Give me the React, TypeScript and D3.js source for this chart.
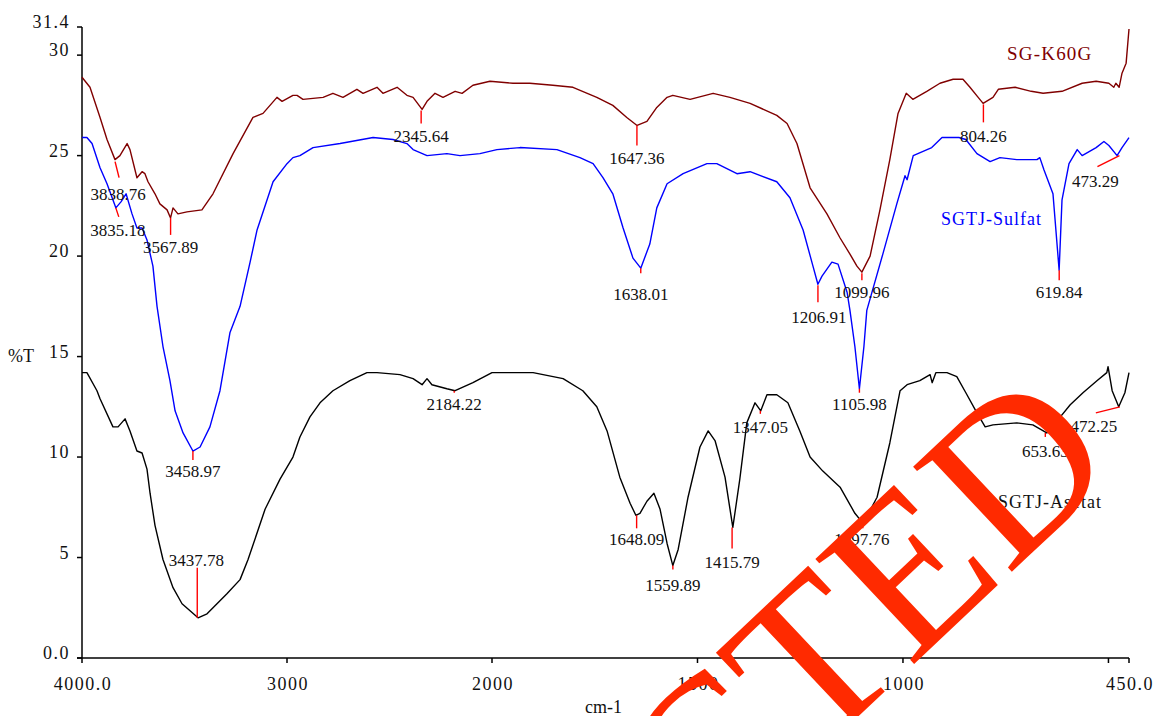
import React from "react";
import * as d3 from "d3";

// ---- data: [wavenumber cm-1, %T] ----
const sgK60g: [number, number][] = [
  [4000, 28.9], [3961, 28.4], [3912, 26.9], [3878, 25.8], [3839, 24.8], [3815, 25.0],
  [3780, 25.6], [3766, 25.3], [3732, 23.9], [3707, 24.2], [3693, 24.1], [3678, 23.7],
  [3644, 23.1], [3620, 22.6], [3585, 22.3], [3568, 21.9], [3556, 22.4], [3532, 22.1],
  [3488, 22.2], [3415, 22.3], [3361, 23.1], [3263, 25.1], [3166, 26.9], [3117, 27.1],
  [3049, 27.9], [3024, 27.7], [2971, 28.0], [2951, 28.0], [2922, 27.8], [2824, 27.9],
  [2776, 28.1], [2727, 27.9], [2659, 28.3], [2629, 28.1], [2561, 28.4], [2532, 28.1],
  [2463, 28.4], [2415, 28.0], [2385, 27.9], [2341, 27.3], [2317, 27.7], [2278, 28.1],
  [2239, 27.9], [2180, 28.2], [2146, 28.1], [2093, 28.5], [2010, 28.7], [1949, 28.6],
  [1908, 28.6], [1852, 28.5], [1803, 28.4], [1745, 27.9], [1706, 27.5], [1672, 26.9],
  [1647, 26.5], [1623, 26.7], [1599, 27.4], [1574, 27.9], [1560, 28.0], [1518, 27.8],
  [1462, 28.1], [1421, 27.9], [1372, 27.6], [1307, 27.0], [1282, 26.6], [1258, 25.6],
  [1226, 23.4], [1185, 22.1], [1153, 20.9], [1129, 20.1], [1112, 19.5], [1100, 19.2],
  [1080, 20.0], [1056, 22.3], [1032, 24.8], [1012, 27.1], [992, 28.1], [976, 27.8],
  [942, 28.2], [910, 28.6], [878, 28.8], [854, 28.8], [837, 28.4], [817, 27.9],
  [805, 27.6], [781, 27.9], [768, 28.3], [727, 28.4], [688, 28.2], [659, 28.1],
  [613, 28.2], [564, 28.6], [530, 28.7], [499, 28.6], [487, 28.4], [482, 28.6],
  [474, 28.4], [467, 29.1], [457, 29.6], [450, 31.3],
];

const sgtjSulfat: [number, number][] = [
  [4000, 25.9], [3976, 25.9], [3951, 25.6], [3912, 24.4], [3878, 23.6], [3835, 22.4],
  [3810, 22.7], [3785, 23.1], [3756, 22.1], [3732, 21.4], [3707, 21.4], [3683, 20.8],
  [3654, 19.5], [3634, 17.5], [3605, 15.5], [3571, 13.8], [3546, 12.3], [3507, 11.2],
  [3459, 10.3], [3424, 10.5], [3376, 11.5], [3327, 13.3], [3278, 16.2], [3229, 17.5],
  [3180, 19.7], [3146, 21.3], [3068, 23.7], [3000, 24.6], [2971, 24.9], [2937, 25.0],
  [2873, 25.4], [2741, 25.6], [2580, 25.9], [2483, 25.8], [2415, 25.6], [2385, 25.3],
  [2317, 25.0], [2220, 25.1], [2156, 25.0], [2059, 25.1], [1988, 25.3], [1932, 25.4],
  [1842, 25.3], [1786, 24.9], [1754, 24.6], [1730, 23.9], [1706, 23.1], [1681, 21.4],
  [1657, 19.9], [1638, 19.4], [1616, 20.6], [1599, 22.4], [1574, 23.6], [1535, 24.1],
  [1477, 24.6], [1453, 24.6], [1404, 24.1], [1372, 24.2], [1307, 23.7], [1275, 22.9],
  [1243, 21.3], [1219, 19.5], [1207, 18.6], [1197, 19.0], [1173, 19.7], [1158, 19.6],
  [1136, 18.2], [1129, 17.3], [1117, 15.5], [1106, 13.4], [1095, 15.5], [1088, 17.3],
  [1049, 20.1], [1015, 22.6], [995, 24.0], [990, 23.8], [975, 25.0], [930, 25.4],
  [905, 25.9], [864, 25.9], [847, 25.8], [820, 25.1], [788, 24.7], [764, 24.9],
  [723, 24.8], [674, 24.8], [667, 24.9], [657, 24.3], [635, 23.1], [620, 19.3],
  [613, 22.8], [596, 24.6], [576, 25.3], [564, 25.0], [530, 25.4], [511, 25.7],
  [499, 25.5], [479, 25.0], [467, 25.4], [450, 25.9],
];

const sgtjAsetat: [number, number][] = [
  [4000, 14.2], [3976, 14.2], [3927, 13.3], [3912, 12.9], [3849, 11.5], [3824, 11.5],
  [3790, 11.9], [3766, 11.3], [3732, 10.3], [3707, 10.2], [3683, 9.4], [3668, 8.2],
  [3644, 6.6], [3605, 4.9], [3556, 3.5], [3512, 2.7], [3434, 2.0], [3390, 2.2],
  [3293, 3.2], [3229, 3.9], [3190, 4.9], [3107, 7.4], [3034, 8.9], [2971, 10.0],
  [2937, 11.0], [2888, 12.0], [2839, 12.7], [2776, 13.3], [2693, 13.8], [2610, 14.2],
  [2561, 14.2], [2449, 14.1], [2385, 13.9], [2341, 13.6], [2317, 13.9], [2293, 13.6],
  [2220, 13.4], [2180, 13.3], [2093, 13.7], [2000, 14.2], [1949, 14.2], [1900, 14.2],
  [1827, 13.9], [1779, 13.3], [1745, 12.5], [1720, 11.3], [1689, 9.0], [1664, 7.7],
  [1650, 7.1], [1640, 7.2], [1623, 7.8], [1606, 8.2], [1591, 7.4], [1574, 5.7],
  [1560, 4.6], [1547, 5.4], [1523, 8.0], [1494, 10.5], [1474, 11.3], [1457, 10.8],
  [1433, 9.0], [1414, 6.5], [1397, 8.9], [1380, 11.7], [1360, 12.7], [1346, 12.3],
  [1331, 13.1], [1307, 13.1], [1280, 12.7], [1251, 11.3], [1226, 10.0], [1195, 9.3],
  [1153, 8.5], [1117, 7.2], [1097, 6.7], [1063, 8.0], [1032, 10.7], [1007, 13.3],
  [990, 13.6], [959, 13.8], [934, 14.1], [929, 13.7], [920, 14.2], [893, 14.2],
  [869, 14.0], [847, 13.2], [820, 12.2], [800, 11.5], [781, 11.6], [723, 11.7],
  [684, 11.6], [650, 11.2], [625, 11.8], [593, 12.6], [562, 13.2], [528, 13.8],
  [504, 14.2], [501, 14.5], [491, 13.3], [475, 12.5], [460, 13.2], [450, 14.2],
];

// peak labels: [wavenumber, %T at peak, label]
const peaksK60g: [number, number, string][] = [
  [3838.76, 24.8, "3838.76"], [3567.89, 21.9, "3567.89"], [2345.64, 27.3, "2345.64"],
  [1647.36, 26.5, "1647.36"], [1099.96, 19.2, "1099.96"], [804.26, 27.6, "804.26"],
];
const peaksSulfat: [number, number, string][] = [
  [3835.18, 22.4, "3835.18"], [3458.97, 10.3, "3458.97"], [1638.01, 19.4, "1638.01"],
  [1206.91, 18.6, "1206.91"], [1105.98, 13.4, "1105.98"], [619.84, 19.3, "619.84"],
  [473.29, 25.0, "473.29"],
];
const peaksAsetat: [number, number, string][] = [
  [3437.78, 2.0, "3437.78"], [2184.22, 13.3, "2184.22"], [1648.09, 7.1, "1648.09"],
  [1559.89, 4.6, "1559.89"], [1415.79, 6.5, "1415.79"], [1347.05, 12.3, "1347.05"],
  [1097.76, 6.7, "1097.76"], [653.63, 11.2, "653.63"], [472.25, 12.5, "472.25"],
];

const xTicks: [number, string][] = [
  [4000, "4000.0"], [3000, "3000"], [2000, "2000"], [1500, "1500"], [1000, "1000"], [500, ""], [450, "450.0"],
];
const yTicks: [number, string][] = [
  [0, "0.0"], [5, "5"], [10, "10"], [15, "15"], [20, "20"], [25, "25"], [30, "30"], [31.4, "31.4"],
];

// ---- layout (pixel offsets for peak markers) : [markerStartDy, endDx, endDy, labelDx, labelDy]
const layoutK60g = [[2, 4, 18, 3, 40], [0, 0, 17, 0, 35], [1, 0, 14, 0, 33], [0, 0, 20, 0, 39], [1, 0, 8, 0, 26], [1, 0, 19, 0, 39]];
const layoutSulfat = [[0, 3, 9, 2, 28], [0, 0, 9, 0, 26], [0, 0, 5, 0, 32], [1, 0, 18, 1, 39], [0, 0, 4, 0, 21], [0, 0, 10, 0, 28], [0, -22, 11, -24, 31]];
const layoutAsetat = [[0, 0, -50, -1, -52], [0, 0, 2, 0, 19], [0, 0, 13, 0, 30], [0, 0, 4, 0, 25], [0, 0, 21, 0, 41], [0, 0, 3, 0, 22], [0, 0, 5, -1, 22], [0, 0, 4, 0, 24], [0, -24, 6, -26, 25]];

const W = 1159;
const H = 716;
const FONT = "'Liberation Serif', 'Times New Roman', serif";

export default function App() {
  const x = d3.scaleLinear().domain([4000, 2000, 450]).range([82, 492, 1129]);
  const y = d3.scaleLinear().domain([0, 31.4]).range([658, 27]);
  const line = d3.line<[number, number]>().x((d) => x(d[0])).y((d) => y(d[1]));

  const series = [
    { data: sgK60g, color: "#800000", peaks: peaksK60g, layout: layoutK60g },
    { data: sgtjSulfat, color: "#0000ff", peaks: peaksSulfat, layout: layoutSulfat },
    { data: sgtjAsetat, color: "#000000", peaks: peaksAsetat, layout: layoutAsetat },
  ];

  return (
    <svg width={W} height={H} style={{ position: "absolute", left: 0, top: 0, display: "block", background: "#fff" }}>
      {/* axes */}
      <line x1={82} y1={y(31.4)} x2={82} y2={y(0)} stroke="#000" strokeWidth={1.5} />
      <line x1={77} y1={y(0)} x2={x(450)} y2={y(0)} stroke="#000" strokeWidth={1.5} />
      {yTicks.map(([v, l]) => (
        <g key={"y" + v}>
          <line x1={77} x2={82} y1={y(v)} y2={y(v)} stroke="#000" strokeWidth={1.5} />
          <text x={70} y={y(v) + 1} textAnchor="end" fontFamily={FONT} fontSize={18} letterSpacing={1.5} fill="#111">{l}</text>
        </g>
      ))}
      {xTicks.map(([v, l]) => (
        <g key={"x" + v}>
          <line x1={x(v)} x2={x(v)} y1={y(0)} y2={y(0) + 5} stroke="#000" strokeWidth={1.5} />
          <text x={x(v) + 1} y={690} textAnchor="middle" fontFamily={FONT} fontSize={18} letterSpacing={1.5} fill="#111">{l}</text>
        </g>
      ))}
      <text x={8} y={362} fontFamily={FONT} fontSize={18} fill="#111">%T</text>
      <text x={585} y={713} fontFamily={FONT} fontSize={18} fill="#111">cm-1</text>

      {/* spectra */}
      {series.map((s, i) => (
        <path key={"s" + i} d={line(s.data) || ""} fill="none" stroke={s.color} strokeWidth={1.4} strokeLinejoin="round" />
      ))}

      {/* peak markers */}
      {series.map((s, i) =>
        s.peaks.map(([wn, t, label], j) => {
          const [sdy, edx, edy, ldx, ldy] = s.layout[j];
          const px = x(wn);
          const py = y(t);
          return (
            <g key={"p" + i + "-" + j}>
              <line x1={px} y1={py + sdy} x2={px + edx} y2={py + edy} stroke="#ff0000" strokeWidth={1.4} />
              <text x={px + ldx} y={py + ldy} textAnchor="middle" fontFamily={FONT} fontSize={17} fill="#111">{label}</text>
            </g>
          );
        })
      )}

      {/* series names */}
      <text x={1007} y={60} fontFamily={FONT} fontSize={19} letterSpacing={1.2} fill="#800000">SG-K60G</text>
      <text x={941} y={225} fontFamily={FONT} fontSize={18} letterSpacing={1} fill="#0000ff">SGTJ-Sulfat</text>
      <text x={998} y={508} fontFamily={FONT} fontSize={18} letterSpacing={1} fill="#111">SGTJ-Asetat</text>

      {/* stamp */}
      <text transform="translate(1123,467) rotate(-43.3)" textAnchor="end" fontFamily={FONT} fontSize={220} fill="#ff2a00">REDACTED</text>
    </svg>
  );
}
